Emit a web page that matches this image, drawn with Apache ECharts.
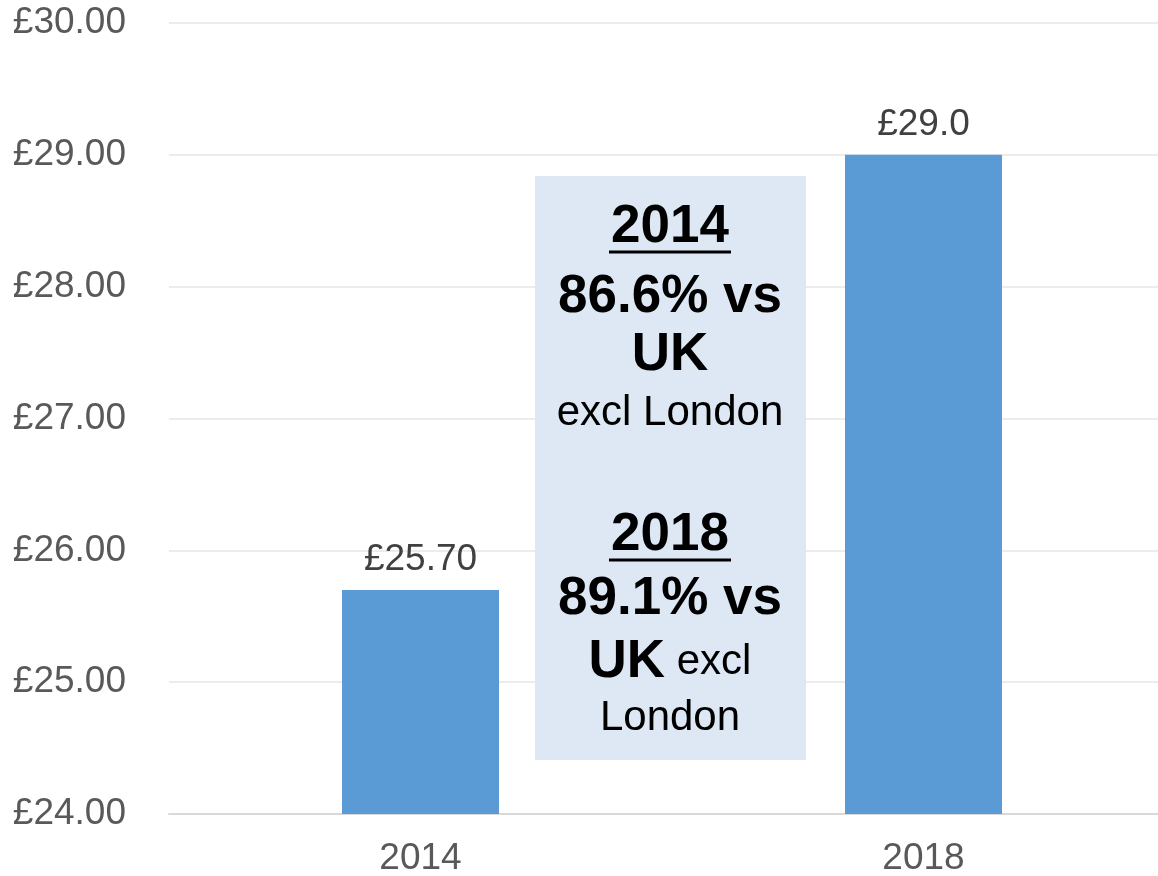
<!DOCTYPE html>
<html><head><meta charset="utf-8">
<script src="https://cdn.jsdelivr.net/npm/echarts@6/dist/echarts.min.js"></script>
<style>html,body{margin:0;padding:0;background:#fff}#c{width:1158px;height:876px}</style>
</head><body><div id="c"></div>
<script>
var categories = ['2014', '2018'];
var values = [25.70, 29.0];
var valueLabels = ['£25.70', '£29.0'];
var yTicks = [24, 25, 26, 27, 28, 29, 30];
var boxLines = [
  {t: '2014', bold: true, y: 227, u: true},
  {t: '86.6% vs', bold: true, y: 297},
  {t: 'UK', bold: true, y: 355},
  {t: 'excl London', bold: false, y: 413},
  {t: '2018', bold: true, y: 535, u: true},
  {t: '89.1% vs', bold: true, y: 599},
  {t: 'UK', bold: true, y: 662, rich: true},
  {t: 'London', bold: false, y: 718}
];
var chart = echarts.init(document.getElementById('c'));
var FONT = 'Liberation Sans, Arial, sans-serif';
var g = [{type: 'rect', shape: {x: 535, y: 176, width: 271, height: 584}, style: {fill: '#dde8f4'}, z: 10}];
boxLines.forEach(function (l) {
  if (l.rich) {
    g.push({type: 'text', x: 670, y: l.y, z: 11, style: {
      text: '{b|UK}{r| excl}', rich: {b: {fontSize: 53, fontWeight: 'bold', fill: '#000', fontFamily: FONT}, r: {fontSize: 42, fill: '#000', fontFamily: FONT}},
      align: 'center', verticalAlign: 'middle', fontFamily: FONT}});
  } else {
    g.push({type: 'text', x: 670, y: l.y, z: 11, style: {
      text: l.t, fontSize: l.bold ? 53 : 42, fontWeight: l.bold ? 'bold' : 'normal', fill: '#000',
      fontFamily: FONT, align: 'center', verticalAlign: 'middle'}});
  }
  if (l.u) {
    g.push({type: 'line', z: 11, shape: {x1: 609, y1: l.y + 25, x2: 731, y2: l.y + 25}, style: {stroke: '#000', lineWidth: 3}});
  }
});
chart.setOption({
  animation: false,
  grid: {left: 169, width: 1006, top: 23, height: 791, containLabel: false, outerBoundsMode: 'none'},
  xAxis: {type: 'category', data: categories,
    axisLine: {lineStyle: {color: '#d9d9d9', width: 2}}, axisTick: {show: false},
    axisLabel: {color: '#595959', fontSize: 37, fontFamily: FONT, margin: 26}},
  yAxis: {type: 'value', min: 24, max: 30, interval: 1,
    axisLine: {show: false}, axisTick: {show: false},
    splitLine: {lineStyle: {color: '#ececec', width: 2}},
    axisLabel: {color: '#595959', fontSize: 37, fontFamily: FONT, margin: 43, formatter: function (v) { return '£' + v.toFixed(2); }}},
  series: [{type: 'bar', data: values, barWidth: 157, itemStyle: {color: '#5b9bd5'},
    label: {show: true, position: 'top', distance: 12, color: '#404040', fontSize: 37, fontFamily: FONT,
      formatter: function (p) { return valueLabels[p.dataIndex]; }}}],
  graphic: g
});
</script></body></html>
